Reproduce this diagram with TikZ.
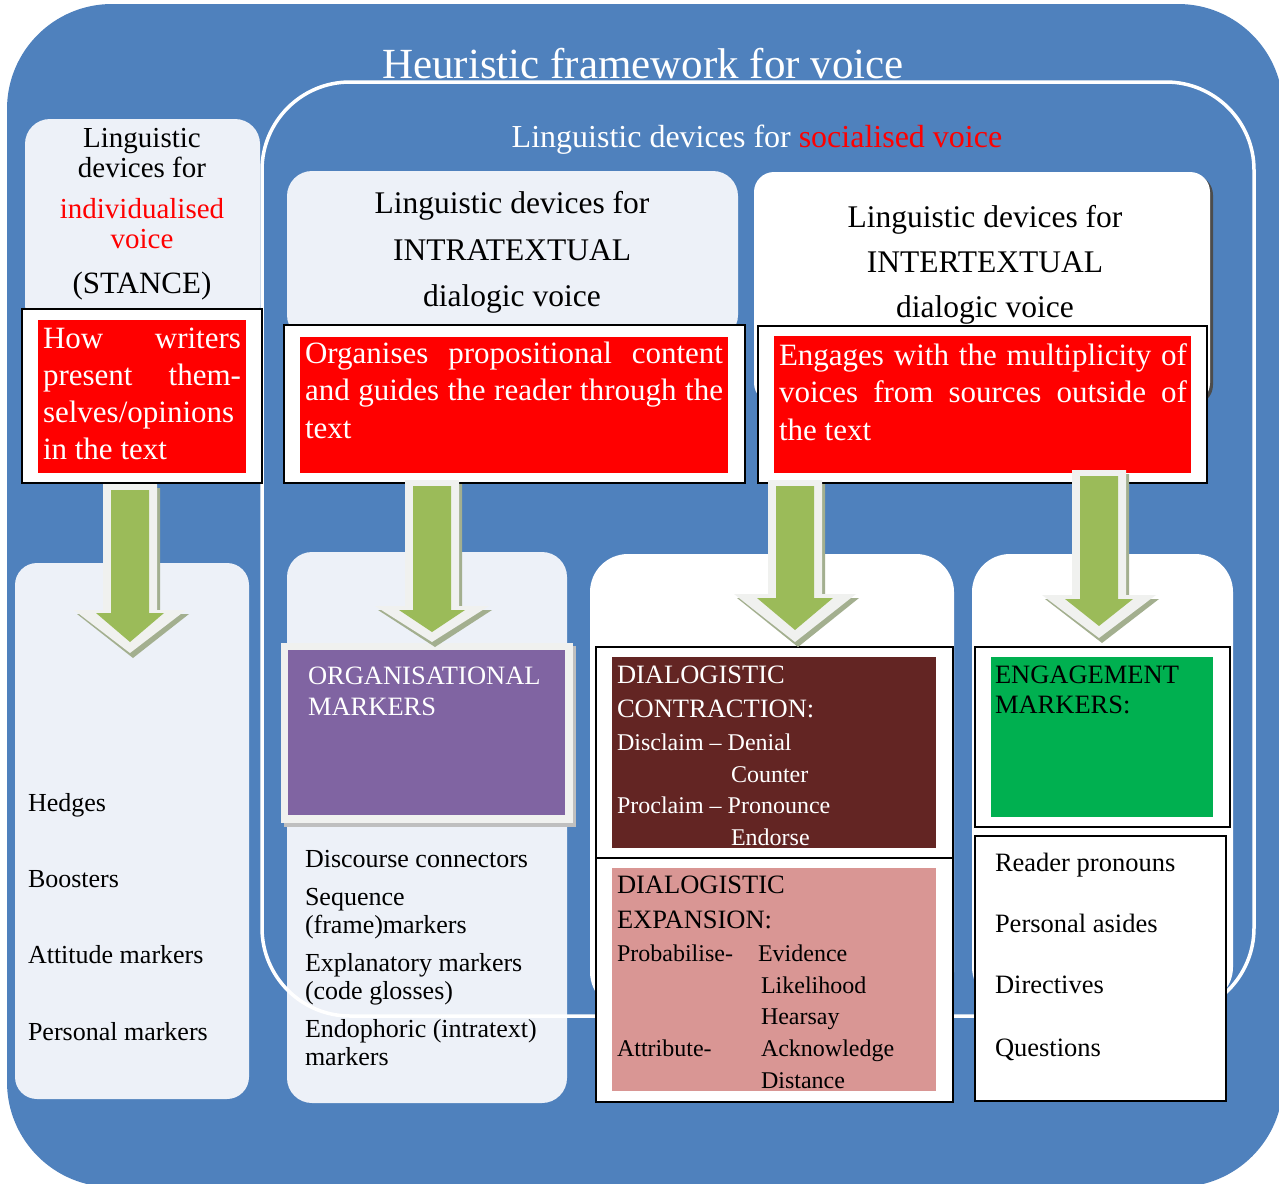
\documentclass[tikz,border=0pt]{standalone}
\usepackage{fontspec}
\setmainfont{Liberation Serif}
\definecolor{bgblue}{HTML}{4F81BD}
\definecolor{lightbox}{HTML}{EDF1F8}
\definecolor{redbox}{HTML}{FF0000}
\definecolor{darkred}{HTML}{632523}
\definecolor{pinkbox}{HTML}{D99694}
\definecolor{greenbox}{HTML}{00B050}
\definecolor{purplebox}{HTML}{8064A2}
\definecolor{agreen}{HTML}{9BBB59}
\definecolor{aborder}{HTML}{F0F1EF}
\definecolor{ashade}{HTML}{A3AF8F}
\newcommand{\fsz}[1]{\fontsize{#1pt}{#1pt}\selectfont}
\newcommand{\garrow}[8]{%
  \fill[ashade] ({#1-24},{#2+4}) -- ({#1+30},{#2+4}) -- ({#1+30},{#3+4}) -- ({#1+#5+3},{#3+4}) -- ({#1+3},{#4+5}) -- ({#1-#5+3},{#3+4}) -- ({#1-24},{#3+4}) -- cycle;
  \fill[aborder] ({#1-27},{#2}) -- ({#1+27},{#2}) -- ({#1+27},{#3}) -- ({#1+#5},{#3}) -- (#1,{#4}) -- ({#1-#5},{#3}) -- ({#1-27},{#3}) -- cycle;
  \fill[agreen] ({#1-19},{#2+6}) -- ({#1+19},{#2+6}) -- ({#1+19},{#6}) -- ({#1+#8},{#6}) -- (#1,{#7}) -- ({#1-#8},{#6}) -- ({#1-19},{#6}) -- cycle;
}
\tikzset{
  area/.style={inner sep=0pt, outer sep=0pt, anchor=north west},
  lbox/.style={area, fill=lightbox, rounded corners=#1},
  wbox/.style={area, fill=white, rounded corners=#1},
  framebox/.style={area, fill=white, draw=black, line width=2pt},
  fillbox/.style={area},
  txt/.style={inner sep=0pt, outer sep=0pt, anchor=base west},
  ctxt/.style={inner sep=0pt, outer sep=0pt, anchor=base},
}
\begin{document}
\begin{tikzpicture}[x=1pt,y=-1pt]
\useasboundingbox (0,0) rectangle (1279,1183);
\fill[white] (0,0) rectangle (1279,1183);
% background
\node[area, fill=bgblue, rounded corners=105pt, minimum width=1276pt, minimum height=1183pt] (bg) at (7,4) {};
% left column boxes
\node[lbox=25pt, minimum width=235pt, minimum height=211pt] (indiv) at (25,119) {};
\node[lbox=22pt, minimum width=234pt, minimum height=536pt] (stlist) at (15,563) {};
% organisational column bottom box
\node[lbox=25pt, minimum width=280pt, minimum height=551pt] (orglist) at (287,552) {};
% socialised outline
\node[area, draw=white, line width=3.5pt, rounded corners=88pt, minimum width=992pt, minimum height=934pt] (social) at (262,82) {};
% top boxes
\node[lbox=25pt, minimum width=451pt, minimum height=169pt] (intra) at (287,171) {};
\fill[black!70, rounded corners=20pt] (757,175) rectangle (1213,405);
\node[wbox=20pt, minimum width=456pt, minimum height=231pt] (inter) at (754,172) {};
% bottom white boxes
\node[wbox=38pt, minimum width=364pt, minimum height=456pt] (dialog) at (590,554) {};
\node[wbox=38pt, minimum width=261pt, minimum height=451pt] (engage) at (972,554) {};
% frames with red boxes
\node[framebox, minimum width=240pt, minimum height=174pt] (f1) at (22,309) {};
\node[fillbox, fill=redbox, minimum width=208pt, minimum height=153pt] (r1) at (38,320) {};
\node[framebox, minimum width=461pt, minimum height=158pt] (f2) at (284,325) {};
\node[fillbox, fill=redbox, minimum width=428pt, minimum height=136pt] (r2) at (300,337) {};
\node[framebox, minimum width=449pt, minimum height=157pt] (f3) at (758,326) {};
\node[fillbox, fill=redbox, minimum width=417pt, minimum height=137pt] (r3) at (774,336) {};
% purple box
\fill[black!25] (284,646) rectangle (576,827);
\node[fillbox, fill=aborder, minimum width=292pt, minimum height=180pt] (orgframe) at (281,643) {};
\node[fillbox, fill=purplebox, minimum width=277pt, minimum height=165pt] (org) at (288,650) {};
% dialogistic frames
\node[framebox, minimum width=357pt, minimum height=211pt] (f4) at (596,647) {};
\node[fillbox, fill=darkred, minimum width=324pt, minimum height=191pt] (contr) at (612,657) {};
\node[framebox, minimum width=357pt, minimum height=244pt] (f5) at (596,858) {};
\node[fillbox, fill=pinkbox, minimum width=324pt, minimum height=223pt] (expan) at (612,868) {};
% engagement frames
\node[framebox, minimum width=255pt, minimum height=180pt] (f6) at (975,647) {};
\node[fillbox, fill=greenbox, minimum width=222pt, minimum height=160pt] (eng) at (991,657) {};
\node[framebox, minimum width=251pt, minimum height=265pt] (f7) at (975,836) {};
% arrows
\garrow{130}{484}{610}{653}{56}{613}{642}{34}
\garrow{432}{480}{606}{642}{57}{610}{632}{33}
\garrow{795}{480}{594}{642}{61}{598}{630}{38}
\garrow{1099}{470}{595}{638}{57}{599}{626}{34}
% title texts
\node[ctxt, text=white, font=\fsz{43}] (title) at (643,78) {Heuristic framework for voice};
\node[ctxt, text=white, font=\fsz{32}] (soctitle) at (757,147) {Linguistic devices for \textcolor{redbox}{socialised voice}};
% individualised header
\node[ctxt, font=\fsz{29}] (i1) at (142,147) {Linguistic};
\node[ctxt, font=\fsz{29}] (i2) at (142,177) {devices for};
\node[ctxt, font=\fsz{29}, text=redbox] (i3) at (142,218) {individualised};
\node[ctxt, font=\fsz{29}, text=redbox] (i4) at (142,248) {voice};
\node[ctxt, font=\fsz{31}] (i5) at (142,293) {(STANCE)};
% intratextual header
\node[ctxt, font=\fsz{31.5}] (a1) at (512,213) {Linguistic devices for};
\node[ctxt, font=\fsz{31.5}] (a2) at (512,260) {INTRATEXTUAL};
\node[ctxt, font=\fsz{31.5}] (a3) at (512,306) {dialogic voice};
% intertextual header
\node[ctxt, font=\fsz{31.5}] (b1) at (985,227) {Linguistic devices for};
\node[ctxt, font=\fsz{31.5}] (b2) at (985,272) {INTERTEXTUAL};
\node[ctxt, font=\fsz{31.5}] (b3) at (985,317) {dialogic voice};
% red texts
\node[txt, text=white, font=\fsz{31}] (h1) at (43,348) {\makebox[198pt][s]{How writers}};
\node[txt, text=white, font=\fsz{31}] (h2) at (43,385) {\makebox[198pt][s]{present them-}};
\node[txt, text=white, font=\fsz{31}] (h3) at (43,422) {selves/opinions};
\node[txt, text=white, font=\fsz{31}] (h4) at (43,459) {in the text};
\node[txt, text=white, font=\fsz{31}] (o1) at (305,363) {\makebox[418pt][s]{Organises propositional content}};
\node[txt, text=white, font=\fsz{31}] (o2) at (305,400) {\makebox[418pt][s]{and guides the reader through the}};
\node[txt, text=white, font=\fsz{31}] (o3) at (305,438) {text};
\node[txt, text=white, font=\fsz{31}] (e1) at (779,365) {\makebox[408pt][s]{Engages with the multiplicity of}};
\node[txt, text=white, font=\fsz{31}] (e2) at (779,402) {\makebox[408pt][s]{voices from sources outside of}};
\node[txt, text=white, font=\fsz{31}] (e3) at (779,440) {the text};
% stance list
\node[txt, font=\fsz{26}] (s1) at (28,811) {Hedges};
\node[txt, font=\fsz{26}] (s2) at (28,887) {Boosters};
\node[txt, font=\fsz{26}] (s3) at (28,963) {Attitude markers};
\node[txt, font=\fsz{26}] (s4) at (28,1040) {Personal markers};
% organisational
\node[txt, text=white, font=\fsz{26.5}] (g1) at (308,684) {ORGANISATIONAL};
\node[txt, text=white, font=\fsz{26.5}] (g2) at (308,715) {MARKERS};
\node[txt, font=\fsz{26}] (l1) at (305,867) {Discourse connectors};
\node[txt, font=\fsz{26}] (l2) at (305,905) {Sequence};
\node[txt, font=\fsz{26}] (l3) at (305,933) {(frame)markers};
\node[txt, font=\fsz{26}] (l4) at (305,971) {Explanatory markers};
\node[txt, font=\fsz{26}] (l5) at (305,999) {(code glosses)};
\node[txt, font=\fsz{26}] (l6) at (305,1037) {Endophoric (intratext)};
\node[txt, font=\fsz{26}] (l7) at (305,1065) {markers};
% contraction
\node[txt, text=white, font=\fsz{26.5}] (c1) at (617,683) {DIALOGISTIC};
\node[txt, text=white, font=\fsz{26.5}] (c2) at (617,717) {CONTRACTION:};
\node[txt, text=white, font=\fsz{24}] (c3) at (617,750) {Disclaim – Denial};
\node[txt, text=white, font=\fsz{24}] (c4) at (731,782) {Counter};
\node[txt, text=white, font=\fsz{24}] (c5) at (617,813) {Proclaim – Pronounce};
\node[txt, text=white, font=\fsz{24}] (c6) at (731,845) {Endorse};
% expansion
\node[txt, font=\fsz{26.5}] (x1) at (617,893) {DIALOGISTIC};
\node[txt, font=\fsz{26.5}] (x2) at (617,928) {EXPANSION:};
\node[txt, font=\fsz{24}] (x3) at (617,961) {Probabilise-};
\node[txt, font=\fsz{24}] (x4) at (758,961) {Evidence};
\node[txt, font=\fsz{24}] (x5) at (761,993) {Likelihood};
\node[txt, font=\fsz{24}] (x6) at (761,1024) {Hearsay};
\node[txt, font=\fsz{24}] (x7) at (617,1056) {Attribute-};
\node[txt, font=\fsz{24}] (x8) at (761,1056) {Acknowledge};
\node[txt, font=\fsz{24}] (x9) at (761,1088) {Distance};
% engagement
\node[txt, font=\fsz{26.5}] (m1) at (995,683) {ENGAGEMENT};
\node[txt, font=\fsz{26.5}] (m2) at (995,713) {MARKERS:};
\node[txt, font=\fsz{26.5}] (n1) at (995,871) {Reader pronouns};
\node[txt, font=\fsz{26.5}] (n2) at (995,932) {Personal asides};
\node[txt, font=\fsz{26.5}] (n3) at (995,993) {Directives};
\node[txt, font=\fsz{26.5}] (n4) at (995,1056) {Questions};
\end{tikzpicture}
\end{document}
